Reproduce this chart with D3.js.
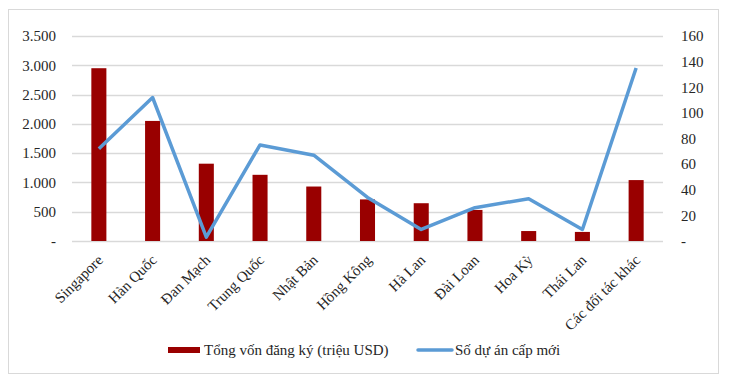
<!DOCTYPE html>
<html lang="vi">
<head>
    <meta charset="utf-8" />
    <title>FDI theo đối tác</title>
    <script src="https://d3js.org/d3.v7.min.js"></script>
    <style>
        body { margin: 0; background: #fff; }
        svg text { font-family: "Liberation Serif", "Times New Roman", serif; fill: #262626; }
    </style>
</head>
<body>
<script>
    var partners = ["Singapore", "Hàn Quốc", "Đan Mạch", "Trung Quốc", "Nhật Bản", "Hồng Kông",
        "Hà Lan", "Đài Loan", "Hoa Kỳ", "Thái Lan", "Các đối tác khác"];
    var capital = [2950, 2050, 1320, 1130, 930, 710, 645, 530, 170, 155, 1040];
    var projects = [72, 112, 3, 75, 67, 34, 9, 26, 33, 9, 135];
    var leftTicks = [0, 500, 1000, 1500, 2000, 2500, 3000, 3500];
    var rightTicks = [0, 20, 40, 60, 80, 100, 120, 140, 160];
    var seriesNames = ["Tổng vốn đăng ký (triệu USD)", "Số dự án cấp mới"];

    var w = 730, h = 386;
    var plotL = 72, plotR = 663, plotT = 36, plotB = 241;
    var serif = "Liberation Serif, Times New Roman, serif";

    var svg = d3.select("body").append("svg")
        .attr("width", w)
        .attr("height", h);

    svg.append("rect")
        .attr("x", 8.5).attr("y", 9.5)
        .attr("width", 710).attr("height", 364)
        .attr("fill", "#fff")
        .attr("stroke", "#d9d9d9");

    var x = d3.scaleBand().domain(partners).range([plotL, plotR]).paddingInner(0.72).paddingOuter(0.36);
    var xc = function (d) { return x(d) + x.bandwidth() / 2; };
    var yL = d3.scaleLinear().domain([0, 3500]).range([plotB, plotT]);
    var yR = d3.scaleLinear().domain([0, 160]).range([plotB, plotT]);

    var fmt = function (d) {
        return d === 0 ? "-" : d3.format(",")(d).replace(/,/g, ".");
    };

    // gridlines
    svg.append("g").selectAll("line")
        .data(leftTicks)
        .enter().append("line")
        .attr("x1", plotL).attr("x2", plotR)
        .attr("y1", function (d) { return Math.round(yL(d)) + 0.5; })
        .attr("y2", function (d) { return Math.round(yL(d)) + 0.5; })
        .attr("stroke", "#d9d9d9")
        .attr("stroke-width", 1.3);

    var axL = svg.append("g")
        .attr("transform", "translate(" + (plotL - 16) + ",0)")
        .call(d3.axisLeft(yL).tickValues(leftTicks).tickSize(0).tickFormat(fmt));
    var axR = svg.append("g")
        .attr("transform", "translate(" + (plotR + 18) + ",0)")
        .call(d3.axisRight(yR).tickValues(rightTicks).tickSize(0).tickFormat(fmt));
    [axL, axR].forEach(function (g) {
        g.select(".domain").remove();
        g.selectAll("text").attr("x", 0).attr("font-size", "15px").attr("font-family", serif).attr("fill", "#262626");
    });

    // bars
    svg.append("g").selectAll("rect")
        .data(capital)
        .enter().append("rect")
        .attr("x", function (d, i) { return x(partners[i]); })
        .attr("y", function (d) { return yL(d); })
        .attr("width", x.bandwidth())
        .attr("height", function (d) { return plotB - yL(d); })
        .attr("fill", "#990000");

    // line
    var line = d3.line()
        .x(function (d, i) { return xc(partners[i]); })
        .y(function (d) { return yR(d); });
    svg.append("path")
        .datum(projects)
        .attr("d", line)
        .attr("fill", "none")
        .attr("stroke", "#5b9bd5")
        .attr("stroke-width", 3.5)
        .attr("stroke-linejoin", "round");

    // category labels
    svg.append("g").selectAll("text")
        .data(partners)
        .enter().append("text")
        .attr("transform", function (d) {
            return "translate(" + (xc(d) + 5) + "," + (plotB + 20) + ") rotate(-45)";
        })
        .attr("text-anchor", "end")
        .attr("font-size", "15px")
        .attr("font-family", serif)
        .text(function (d) { return d; });

    // legend
    var lg = svg.append("g");
    lg.append("rect")
        .attr("x", 168).attr("y", 347)
        .attr("width", 32).attr("height", 6)
        .attr("fill", "#990000");
    lg.append("text")
        .attr("x", 204).attr("y", 355)
        .attr("font-size", "15px")
        .attr("font-family", serif)
        .text(seriesNames[0]);
    lg.append("line")
        .attr("x1", 418).attr("x2", 452)
        .attr("y1", 350).attr("y2", 350)
        .attr("stroke", "#5b9bd5")
        .attr("stroke-width", 3.5)
        .attr("stroke-linecap", "round");
    lg.append("text")
        .attr("x", 455).attr("y", 355)
        .attr("font-size", "15px")
        .attr("font-family", serif)
        .text(seriesNames[1]);
</script>
</body>
</html>
